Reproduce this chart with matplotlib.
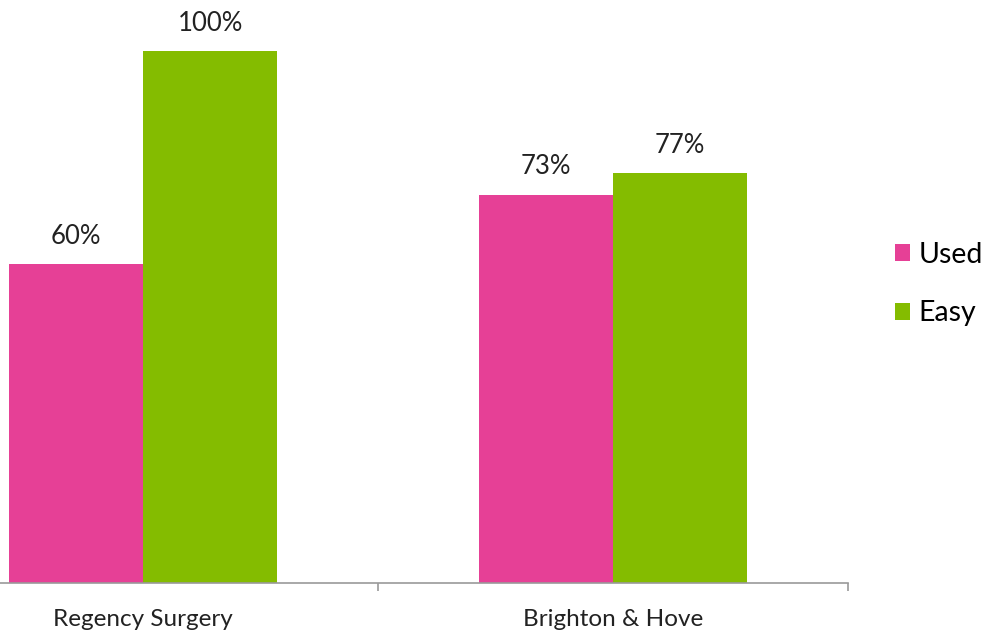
import matplotlib.pyplot as plt
import numpy as np

plt.rcParams['font.family'] = ['Lato', 'DejaVu Sans']

practices = ['Regency Surgery', 'Brighton & Hove']
used = [60, 73]
easy = [100, 77]
series = ['Used', 'Easy']
colors = ['#E64096', '#84BC00']

fig = plt.figure(figsize=(9.87, 6.37), dpi=100)
# plot area starts off the left edge, like the cropped source
ax = fig.add_axes([-92 / 987, 54 / 637, 940 / 987, 532 / 637])

x = np.arange(len(practices))
w = 0.286
b1 = ax.bar(x - w / 2, used, w, color=colors[0], label=series[0])
b2 = ax.bar(x + w / 2, easy, w, color=colors[1], label=series[1])

for bars, vals in ((b1, used), (b2, easy)):
    for bar, v in zip(bars, vals):
        ax.annotate(f'{v}%', (bar.get_x() + bar.get_width() / 2, v),
                    xytext=(0, 11), textcoords='offset points',
                    ha='center', va='bottom', fontsize=18.5, color='#222222')

ax.set_xlim(-0.5, 1.5)
ax.set_ylim(0, 100)
ax.set_yticks([])
for s in ('left', 'right', 'top'):
    ax.spines[s].set_visible(False)
ax.spines['bottom'].set_color('#9a9a9a')
ax.spines['bottom'].set_linewidth(1.2)

ax.set_xticks(x)
ax.set_xticklabels(practices, fontsize=17.5, color='#222222')
ax.tick_params(axis='x', which='major', length=0, pad=18.5)
ax.set_xticks([-0.5, 0.5, 1.5], minor=True)
ax.tick_params(axis='x', which='minor', length=6, color='#9a9a9a', width=1.2)

fig.legend(handles=[b1, b2], labels=series, loc='center left',
           bbox_to_anchor=(869 / 987, 1 - 284 / 637), frameon=False,
           fontsize=20.5, handlelength=0.55, handleheight=0.55,
           handletextpad=0.3, labelspacing=1.15)

fig.savefig('out.png', dpi=100)
